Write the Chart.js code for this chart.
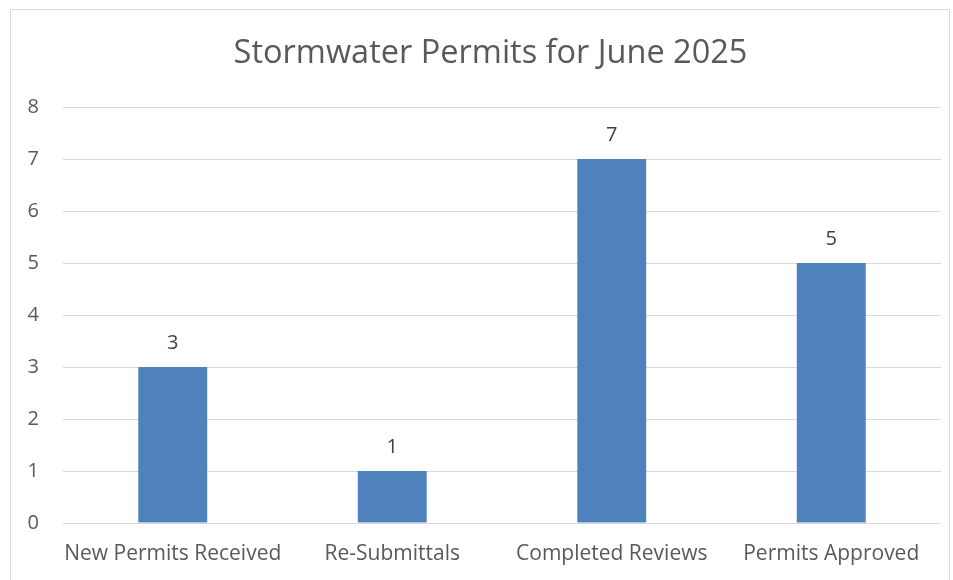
<!DOCTYPE html>
<html>
<head>
<meta charset="utf-8">
<script src="https://cdn.jsdelivr.net/npm/chart.js@4"></script>
<style>
    html, body { margin: 0; padding: 0; background: #fff; }
    #wrap { position: relative; width: 953px; height: 580px; overflow: hidden; }
    #frame { position: absolute; left: 10px; top: 9px; width: 940px; height: 620px; border: 1px solid #d9d9d9; box-sizing: border-box; }
    canvas { position: absolute; left: 0; top: 0; }
</style>
</head>
<body>
<div id="wrap">
    <div id="frame"></div>
    <canvas id="permitChart" width="953" height="580"></canvas>
</div>
<script>
// Chart data
const categories = ['New Permits Received', 'Re-Submittals', 'Completed Reviews', 'Permits Approved'];
const permitCounts = [3, 1, 7, 5];
const yTicks = [0, 1, 2, 3, 4, 5, 6, 7, 8];

const textColor = '#595959';
const fontFamily = "'Open Sans', 'Noto Sans', sans-serif";

// Draw the value above each bar
const barValueLabels = {
    id: 'barValueLabels',
    afterDatasetsDraw(chart) {
        const ctx = chart.ctx;
        const meta = chart.getDatasetMeta(0);
        ctx.save();
        ctx.fillStyle = '#404040';
        ctx.font = '20px ' + fontFamily;
        ctx.textAlign = 'center';
        ctx.textBaseline = 'alphabetic';
        meta.data.forEach((bar, i) => {
            ctx.fillText(String(permitCounts[i]), bar.x, bar.y - 18);
        });
        ctx.restore();
    }
};

// Nudge the title box right so it centres like the original
const titleShift = {
    id: 'titleShift',
    afterLayout(chart) {
        const t = chart.titleBlock;
        if (t) {
            t.left += 20;
            t.right += 20;
        }
    }
};

const ctx = document.getElementById('permitChart').getContext('2d');
const permitChart = new Chart(ctx, {
    type: 'bar',
    data: {
        labels: categories,
        datasets: [{
            label: 'Permits',
            data: permitCounts,
            backgroundColor: '#4F81BD',
            borderWidth: 0,
            barPercentage: 0.94,
            categoryPercentage: 0.334
        }]
    },
    options: {
        responsive: false,
        animation: false,
        layout: {
            padding: { left: 0, right: 12, top: 0, bottom: 0 }
        },
        plugins: {
            legend: { display: false },
            tooltip: { enabled: false },
            title: {
                display: true,
                text: 'Stormwater Permits for June 2025',
                color: textColor,
                font: { family: fontFamily, size: 32.5, weight: 'normal' },
                padding: { top: 34, bottom: 34 }
            }
        },
        scales: {
            x: {
                grid: { display: false },
                border: { display: false },
                ticks: {
                    color: textColor,
                    font: { family: fontFamily, size: 21 },
                    padding: 10,
                    maxRotation: 0,
                    autoSkip: false
                },
                afterFit(scale) {
                    scale.height = 57;
                }
            },
            y: {
                min: 0,
                max: 8,
                afterBuildTicks(scale) {
                    scale.ticks = yTicks.map(v => ({ value: v }));
                },
                grid: { color: '#d9d9d9', lineWidth: 1, drawTicks: false },
                border: { display: false },
                ticks: {
                    color: textColor,
                    font: { family: fontFamily, size: 20 },
                    padding: 24
                },
                afterFit(scale) {
                    scale.width = 63;
                }
            }
        }
    },
    plugins: [barValueLabels, titleShift]
});
</script>
</body>
</html>
